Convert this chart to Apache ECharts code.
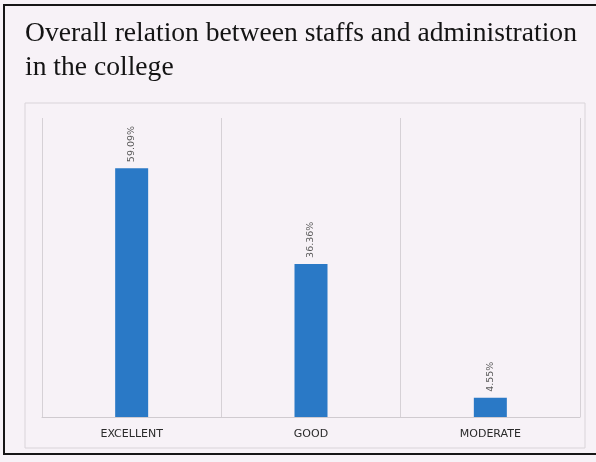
<!DOCTYPE html>
<html>
<head>
<meta charset="utf-8">
<script src="https://cdn.jsdelivr.net/npm/echarts@6/dist/echarts.min.js"></script>
<style>
html,body{margin:0;padding:0;background:#f7f2f7;}
#chart{width:596px;height:462px;}
</style>
</head>
<body>
<div id="chart"></div>
<script>
const categories = ['EXCELLENT', 'GOOD', 'MODERATE'];
const values = [59.09, 36.36, 4.55];
const titleLines = ['Overall relation between staffs and administration', 'in the college'];

const chart = echarts.init(document.getElementById('chart'), null, {renderer: 'canvas'});
chart.setOption({
  backgroundColor: '#f7f2f7',
  animation: false,
  title: {
    text: titleLines.join('\n'),
    left: 20,
    top: 12,
    textStyle: {
      fontFamily: 'Liberation Serif',
      fontSize: 27.6,
      fontWeight: 'normal',
      color: '#141414',
      lineHeight: 34
    }
  },
  graphic: [
    {type: 'rect', shape: {x: 4, y: 5, width: 600, height: 449}, style: {fill: 'none', stroke: '#161616', lineWidth: 2}, silent: true, z: 100},
    {type: 'rect', shape: {x: 25, y: 103, width: 560, height: 345}, style: {fill: 'none', stroke: '#d9d4d9', lineWidth: 1}, silent: true}
  ],
  grid: {left: 42, right: 16, top: 118, bottom: 45, containLabel: false},
  xAxis: {
    type: 'category',
    data: categories,
    boundaryGap: true,
    axisLine: {show: true, lineStyle: {color: '#d0cbd0'}},
    axisTick: {show: false},
    splitLine: {show: true, lineStyle: {color: '#d6d1d6', width: 1}},
    axisLabel: {
      margin: 12,
      fontFamily: 'DejaVu Sans',
      fontSize: 11,
      color: '#2a2a2a'
    }
  },
  yAxis: {
    type: 'value',
    min: 0,
    max: 71,
    show: false,
    splitLine: {show: false}
  },
  series: [{
    type: 'bar',
    data: values,
    barWidth: 33,
    itemStyle: {color: '#2a79c6'},
    label: {
      show: true,
      position: 'top',
      rotate: 90,
      align: 'left',
      verticalAlign: 'middle',
      distance: 6,
      fontFamily: 'DejaVu Sans',
      fontSize: 9.5,
      color: '#5a5a5a',
      formatter: p => p.value.toFixed(2) + '%'
    }
  }]
});
</script>
</body>
</html>
